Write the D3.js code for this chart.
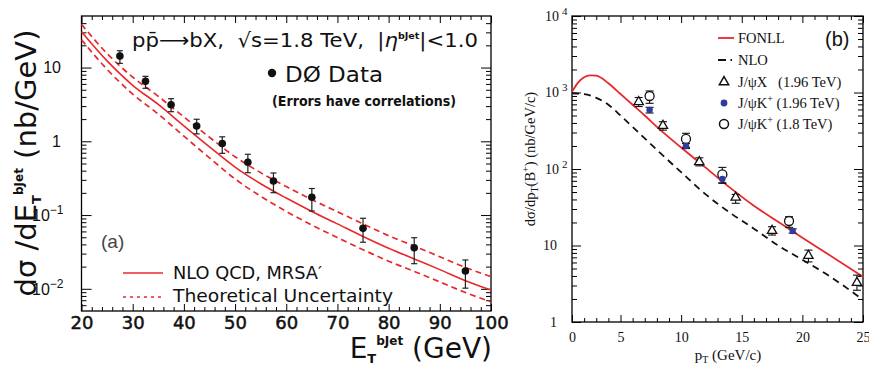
<!DOCTYPE html>
<html><head><meta charset="utf-8">
<script src="https://cdn.jsdelivr.net/npm/d3@7"></script>
<style>body{margin:0;background:#fff}svg{display:block}</style>
</head><body><svg id="c" width="869" height="366"></svg>
<script>
// ---------- Panel (a) data ----------
const etBins = [27.5,32.5,37.5,42.5,47.5,52.5,57.5,65,75,85,95];
const d0Data = [14.3,6.5,3.13,1.61,0.93,0.52,0.29,0.174,0.066,0.036,0.0174];
const d0Hi   = [16.9,7.6,3.78,1.99,1.15,0.667,0.372,0.229,0.0904,0.0493,0.0246];
const d0Lo   = [11.4,5.23,2.52,1.26,0.687,0.375,0.201,0.1135,0.0428,0.0219,0.0102];
const etGrid = [20,25,30,35,40,45,50,55,60,65,70,75,80,85,90,95,100];
const nloCentral = [30.6,12.3,5.75,3.16,1.62,0.841,0.447,0.266,0.170,0.112,0.0759,0.0513,0.0355,0.0254,0.0182,0.0129,0.00964];
const nloUpper   = [38.5,15.5,7.41,4.07,2.14,1.135,0.617,0.376,0.243,0.162,0.111,0.0759,0.0525,0.0380,0.0272,0.0195,0.0146];
const nloLower   = [23.8,9.44,4.37,2.34,1.175,0.596,0.309,0.180,0.112,0.0733,0.0495,0.0339,0.0237,0.0172,0.0124,0.0089,0.00667];
const xTicksA = [20,30,40,50,60,70,80,90,100];
const yTicksA = [0.01,0.1,1,10];
const yTickBaseA = ["10","10","1","10"];
const yTickExpA  = ["\u22122","\u22121","",""];

// ---------- Panel (b) data ----------
const ptGrid = [1,1.5,2,2.5,3,4,5,6,7,8,10,12,14,16,18,20,22,25];
const fonll  = [1023,1349,1585,1679,1660,1318,955,692,501,355,191,105,57.5,33.1,20.4,12.6,7.9,3.9];
const ptGridNLO = [1,2,3,4,5,6,7,8,10,12,14,16,18,20,22,25];
const nloB   = [977,955,851,692,501,355,251,178,91,47,27,16.6,10,6.5,4.2,1.95];
const triPt  = [6.5,8.5,11.5,14.5,17.5,20.5,24.5];
const triY   = [754,368,123.5,42.4,15.6,7.36,3.26];
const triHi  = [860,415,140,46.5,17.6,8.7,4.1];
const triLo  = [655,322,110,35.6,13.7,6.1,2.6];
const bluePt = [7.4,10.4,13.4,19.2];
const blueY  = [590,200,74,15.5];
const blueHi = [640,215,82,16.5];
const blueLo = [540,185,66,14.5];
const circPt = [7.4,10.4,13.4,18.9];
const circY  = [900,247,85,20.9];
const circHi = [1047,293,105,23.8];
const circLo = [722,192,65,17.3];
const xTicksB = [1,5,10,15,20,25];
const xTickLabelsB = ["0","5","10","15","20","25"];
const yTicksB = [1,10,100,1000,10000];
const yTickBaseB = ["1","10","10","10","10"];
const yTickExpB  = ["","","2","3","4"];

const RED = "#e8282b";
const BLUE = "#2f3c9e";
const svg = d3.select("#c");

function minorLog(lo, hi){
  const out=[];
  for(let e=-4;e<=5;e++) for(let k=2;k<=9;k++){const v=k*Math.pow(10,e); if(v>lo*1.0001 && v<hi*0.9999) out.push(v);}
  return out;
}
function addAxis(g, gen){ g.call(gen); g.select(".domain").remove(); g.selectAll(".tick line").attr("stroke","#000").attr("stroke-width",1); return g; }

// =============== Panel (a) ===============
const xA = d3.scaleLinear().domain([20,100]).range([81.5,491]);
const yA = d3.scaleLog().domain([0.005,50]).range([311,16]);
const gA = svg.append("g");
const fA = "DejaVu Sans, sans-serif";

const minorXA = d3.range(22,100,2).filter(v=>v%10!==0);
addAxis(gA.append("g").attr("transform",`translate(0,${yA.range()[0]})`), d3.axisBottom(xA).tickValues(minorXA).tickSize(-4).tickFormat(""));
addAxis(gA.append("g").attr("transform",`translate(0,${yA.range()[1]})`), d3.axisTop(xA).tickValues(minorXA).tickSize(-4).tickFormat(""));
addAxis(gA.append("g").attr("transform",`translate(0,${yA.range()[1]})`), d3.axisTop(xA).tickValues(xTicksA).tickSize(-7).tickFormat(""));
const bx = addAxis(gA.append("g").attr("transform",`translate(0,${yA.range()[0]})`), d3.axisBottom(xA).tickValues(xTicksA).tickSize(-7).tickPadding(5).tickFormat(d3.format("d")));
bx.selectAll("text").attr("font-family",fA).attr("font-size",18).attr("fill","#111").attr("stroke","#111").attr("stroke-width",0.5);
const minorYA = minorLog(0.005,50);
addAxis(gA.append("g").attr("transform",`translate(${xA.range()[0]},0)`), d3.axisLeft(yA).tickValues(minorYA).tickSize(-5).tickFormat(""));
addAxis(gA.append("g").attr("transform",`translate(${xA.range()[0]},0)`), d3.axisLeft(yA).tickValues(yTicksA).tickSize(-10).tickFormat(""));
addAxis(gA.append("g").attr("transform",`translate(${xA.range()[1]},0)`), d3.axisRight(yA).tickValues(minorYA).tickSize(-5).tickFormat(""));
addAxis(gA.append("g").attr("transform",`translate(${xA.range()[1]},0)`), d3.axisRight(yA).tickValues(yTicksA).tickSize(-10).tickFormat(""));
gA.append("rect").attr("x",xA.range()[0]).attr("y",yA.range()[1]).attr("width",xA.range()[1]-xA.range()[0]).attr("height",yA.range()[0]-yA.range()[1]).attr("fill","none").attr("stroke","#000").attr("stroke-width",1.3);

yTicksA.forEach((v,i)=>{
  const t = gA.append("text").attr("font-family","Liberation Sans, Arial, sans-serif").attr("font-size",16).attr("fill","#111").attr("y",yA(v)).attr("dy","0.36em");
  if(yTickExpA[i]){ t.attr("x",32).attr("text-anchor","start"); t.append("tspan").text(yTickBaseA[i]); t.append("tspan").attr("dy",-7).attr("font-size",12).text(yTickExpA[i]); }
  else { t.attr("x",61).attr("text-anchor","end").text(yTickBaseA[i]); }
});

const lineA = d3.line().x((d,i)=>xA(etGrid[i])).y(d=>yA(d)).curve(d3.curveMonotoneX);
gA.append("path").attr("d",lineA(nloUpper)).attr("fill","none").attr("stroke",RED).attr("stroke-width",1.7).attr("stroke-dasharray","6,4");
gA.append("path").attr("d",lineA(nloLower)).attr("fill","none").attr("stroke",RED).attr("stroke-width",1.7).attr("stroke-dasharray","6,4");
gA.append("path").attr("d",lineA(nloCentral)).attr("fill","none").attr("stroke",RED).attr("stroke-width",1.6);

etBins.forEach((x,i)=>{
  const cx = xA(x);
  gA.append("line").attr("x1",cx).attr("x2",cx).attr("y1",yA(d0Hi[i])).attr("y2",yA(d0Lo[i])).attr("stroke","#222").attr("stroke-width",1.2);
  [d0Hi[i],d0Lo[i]].forEach(v=>gA.append("line").attr("x1",cx-3).attr("x2",cx+3).attr("y1",yA(v)).attr("y2",yA(v)).attr("stroke","#222").attr("stroke-width",1.2));
  gA.append("circle").attr("cx",cx).attr("cy",yA(d0Data[i])).attr("r",3.8).attr("fill","#111");
});

// annotations
const ann = gA.append("text").attr("x",132).attr("y",47).attr("font-family",fA).attr("font-size",20).attr("fill","#111").attr("textLength",346).attr("lengthAdjust","spacingAndGlyphs");
ann.append("tspan").text("pp\u0304\u27F6bX,\u00a0\u00a0\u221As=1.8 TeV,\u00a0\u00a0|");
ann.append("tspan").attr("font-style","italic").text("\u03B7");
ann.append("tspan").attr("dy",-8).attr("font-size",9).attr("font-weight","bold").text("bJet");
ann.append("tspan").attr("dy",8).text("|<1.0");
gA.append("circle").attr("cx",272).attr("cy",73).attr("r",4.2).attr("fill","#111");
gA.append("text").attr("x",285).attr("y",82).attr("font-family",fA).attr("font-size",22).attr("fill","#111").attr("textLength",98).attr("lengthAdjust","spacingAndGlyphs").text("D\u00D8 Data");
gA.append("text").attr("x",272).attr("y",106).attr("font-family",fA).attr("font-size",13.5).attr("font-weight","bold").attr("fill","#111").attr("textLength",184).attr("lengthAdjust","spacingAndGlyphs").text("(Errors have correlations)");
gA.append("text").attr("x",101).attr("y",248).attr("font-family","Liberation Sans, Arial, sans-serif").attr("font-size",19).attr("fill","#444").text("(a)");
gA.append("line").attr("x1",123).attr("x2",163).attr("y1",273).attr("y2",273).attr("stroke",RED).attr("stroke-width",1.6);
gA.append("line").attr("x1",123).attr("x2",163).attr("y1",297).attr("y2",297).attr("stroke",RED).attr("stroke-width",1.6).attr("stroke-dasharray","3,4");
gA.append("text").attr("x",173).attr("y",279).attr("font-family",fA).attr("font-size",18).attr("fill","#111").attr("textLength",149).attr("lengthAdjust","spacingAndGlyphs").text("NLO QCD, MRSA\u2032");
gA.append("text").attr("x",173).attr("y",302).attr("font-family",fA).attr("font-size",18).attr("fill","#111").attr("textLength",220).attr("lengthAdjust","spacingAndGlyphs").text("Theoretical Uncertainty");

// axis titles
const xtA = gA.append("text").attr("x",492).attr("y",358).attr("text-anchor","end").attr("font-family",fA).attr("font-size",28).attr("fill","#111");
xtA.append("tspan").text("E");
xtA.append("tspan").attr("dy",5).attr("font-size",13).attr("font-weight","bold").text("T");
xtA.append("tspan").attr("dy",-18).attr("font-size",12).attr("font-weight","bold").text("bJet");
xtA.append("tspan").attr("dy",13).text(" (GeV)");
const ytA = gA.append("text").attr("transform","translate(36,163) rotate(-90)").attr("text-anchor","middle").attr("font-family",fA).attr("font-size",29).attr("fill","#111");
ytA.append("tspan").text("d\u03C3 /dE");
ytA.append("tspan").attr("dy",5).attr("font-size",13).attr("font-weight","bold").text("T");
ytA.append("tspan").attr("dy",-18).attr("font-size",12).attr("font-weight","bold").text("bJet");
ytA.append("tspan").attr("dy",13).text(" (nb/GeV)");

// =============== Panel (b) ===============
const xB = d3.scaleLinear().domain([1,25]).range([572,863]);
const yB = d3.scaleLog().domain([1,1e4]).range([322,16]);
const gB = svg.append("g");
const fB = "Liberation Serif, Times New Roman, serif";
const minorXB = d3.range(2,25,1).filter(v=>v%5!==0);
addAxis(gB.append("g").attr("transform",`translate(0,${yB.range()[0]})`), d3.axisBottom(xB).tickValues(minorXB).tickSize(-4).tickFormat(""));
addAxis(gB.append("g").attr("transform",`translate(0,${yB.range()[1]})`), d3.axisTop(xB).tickValues(minorXB).tickSize(-4).tickFormat(""));
addAxis(gB.append("g").attr("transform",`translate(0,${yB.range()[1]})`), d3.axisTop(xB).tickValues(xTicksB).tickSize(-7).tickFormat(""));
const bxB = addAxis(gB.append("g").attr("transform",`translate(0,${yB.range()[0]})`), d3.axisBottom(xB).tickValues(xTicksB).tickSize(-7).tickPadding(10).tickFormat((d,i)=>xTickLabelsB[i]));
bxB.selectAll("text").attr("font-family",fB).attr("font-size",14).attr("fill","#111");
const minorYB = minorLog(1,1e4);
addAxis(gB.append("g").attr("transform",`translate(${xB.range()[0]},0)`), d3.axisLeft(yB).tickValues(minorYB).tickSize(-5).tickFormat(""));
addAxis(gB.append("g").attr("transform",`translate(${xB.range()[0]},0)`), d3.axisLeft(yB).tickValues(yTicksB).tickSize(-9).tickFormat(""));
addAxis(gB.append("g").attr("transform",`translate(${xB.range()[1]},0)`), d3.axisRight(yB).tickValues(minorYB).tickSize(-5).tickFormat(""));
addAxis(gB.append("g").attr("transform",`translate(${xB.range()[1]},0)`), d3.axisRight(yB).tickValues(yTicksB).tickSize(-9).tickFormat(""));
gB.append("rect").attr("x",xB.range()[0]).attr("y",yB.range()[1]).attr("width",xB.range()[1]-xB.range()[0]).attr("height",yB.range()[0]-yB.range()[1]).attr("fill","none").attr("stroke","#000").attr("stroke-width",1.3);

yTicksB.forEach((v,i)=>{
  const t = gB.append("text").attr("font-family",fB).attr("font-size",14).attr("fill","#111").attr("y",yB(v)).attr("dy","0.35em");
  if(yTickExpB[i]){ t.attr("x",545).attr("text-anchor","start"); t.append("tspan").text(yTickBaseB[i]); t.append("tspan").attr("dx",3).attr("dy",-6).attr("font-size",11).text(yTickExpB[i]); }
  else { t.attr("x",557).attr("text-anchor","end").text(yTickBaseB[i]); }
});

const lineF = d3.line().x((d,i)=>xB(ptGrid[i])).y(d=>yB(d)).curve(d3.curveMonotoneX);
const lineN = d3.line().x((d,i)=>xB(ptGridNLO[i])).y(d=>yB(d)).curve(d3.curveMonotoneX);
gB.append("path").attr("d",lineN(nloB)).attr("fill","none").attr("stroke","#111").attr("stroke-width",1.8).attr("stroke-dasharray","7,5");
gB.append("path").attr("d",lineF(fonll)).attr("fill","none").attr("stroke",RED).attr("stroke-width",1.8);

function errBars(xs,hi,lo,col){
  xs.forEach((x,i)=>{
    const cx=xB(x);
    gB.append("line").attr("x1",cx).attr("x2",cx).attr("y1",yB(hi[i])).attr("y2",yB(lo[i])).attr("stroke",col).attr("stroke-width",1.1);
    [hi[i],lo[i]].forEach(v=>gB.append("line").attr("x1",cx-4).attr("x2",cx+4).attr("y1",yB(v)).attr("y2",yB(v)).attr("stroke",col).attr("stroke-width",1.1));
  });
}
errBars(triPt,triHi,triLo,"#111");
errBars(circPt,circHi,circLo,"#111");
errBars(bluePt,blueHi,blueLo,"#111");
const tri = d3.symbol().type(d3.symbolTriangle).size(38);
triPt.forEach((x,i)=>gB.append("path").attr("d",tri()).attr("transform",`translate(${xB(x)},${yB(triY[i])})`).attr("fill","#fff").attr("stroke","#111").attr("stroke-width",1.3));
circPt.forEach((x,i)=>gB.append("circle").attr("cx",xB(x)).attr("cy",yB(circY[i])).attr("r",4.5).attr("fill","#fff").attr("stroke","#111").attr("stroke-width",1.3));
bluePt.forEach((x,i)=>gB.append("circle").attr("cx",xB(x)).attr("cy",yB(blueY[i])).attr("r",3.2).attr("fill",BLUE));

// legend
gB.append("line").attr("x1",718).attr("x2",734).attr("y1",38).attr("y2",38).attr("stroke",RED).attr("stroke-width",1.8);
gB.append("line").attr("x1",718).attr("x2",734).attr("y1",60).attr("y2",60).attr("stroke","#111").attr("stroke-width",1.8).attr("stroke-dasharray","8,4.5,1.5,10");
gB.append("path").attr("d",tri()).attr("transform","translate(724,82)").attr("fill","#fff").attr("stroke","#111").attr("stroke-width",1.5);
gB.append("circle").attr("cx",724).attr("cy",103).attr("r",3.4).attr("fill",BLUE);
gB.append("circle").attr("cx",724).attr("cy",124).attr("r",4.5).attr("fill","#fff").attr("stroke","#111").attr("stroke-width",1.5);
const lgx = 738, lfs = 14.5;
gB.append("text").attr("x",lgx).attr("y",43).attr("font-family",fB).attr("font-size",lfs).attr("fill","#111").text("FONLL");
gB.append("text").attr("x",lgx).attr("y",65).attr("font-family",fB).attr("font-size",lfs).attr("fill","#111").text("NLO");
gB.append("text").attr("x",lgx).attr("y",87).attr("font-family",fB).attr("font-size",lfs).attr("fill","#111").text("J/\u03C8X\u00a0\u00a0\u00a0(1.96 TeV)");
const l4 = gB.append("text").attr("x",lgx).attr("y",108).attr("font-family",fB).attr("font-size",lfs).attr("fill","#111");
l4.append("tspan").text("J/\u03C8K"); l4.append("tspan").attr("dy",-6).attr("font-size",10).text("+"); l4.append("tspan").attr("dy",6).text(" (1.96 TeV)");
const l5 = gB.append("text").attr("x",lgx).attr("y",129).attr("font-family",fB).attr("font-size",lfs).attr("fill","#111");
l5.append("tspan").text("J/\u03C8K"); l5.append("tspan").attr("dy",-6).attr("font-size",10).text("+"); l5.append("tspan").attr("dy",6).text(" (1.8 TeV)");
gB.append("text").attr("x",825).attr("y",46).attr("font-family","Liberation Sans, Arial, sans-serif").attr("font-size",20).attr("fill","#111").text("(b)");

const xtB = gB.append("text").attr("x",728).attr("y",360).attr("text-anchor","middle").attr("font-family",fB).attr("font-size",15).attr("fill","#111");
xtB.append("tspan").text("p"); xtB.append("tspan").attr("dy",3).attr("font-size",10).text("T"); xtB.append("tspan").attr("dy",-3).text(" (GeV/c)");
const ytB = gB.append("text").attr("transform","translate(535,159) rotate(-90)").attr("text-anchor","middle").attr("font-family",fB).attr("font-size",14.5).attr("fill","#111");
ytB.append("tspan").text("d\u03C3/dp"); ytB.append("tspan").attr("dy",3).attr("font-size",10).text("T");
ytB.append("tspan").attr("dy",-3).text("(B"); ytB.append("tspan").attr("dy",-6).attr("font-size",10).text("+");
ytB.append("tspan").attr("dy",6).text(") (nb/GeV/c)");
</script></body></html>
